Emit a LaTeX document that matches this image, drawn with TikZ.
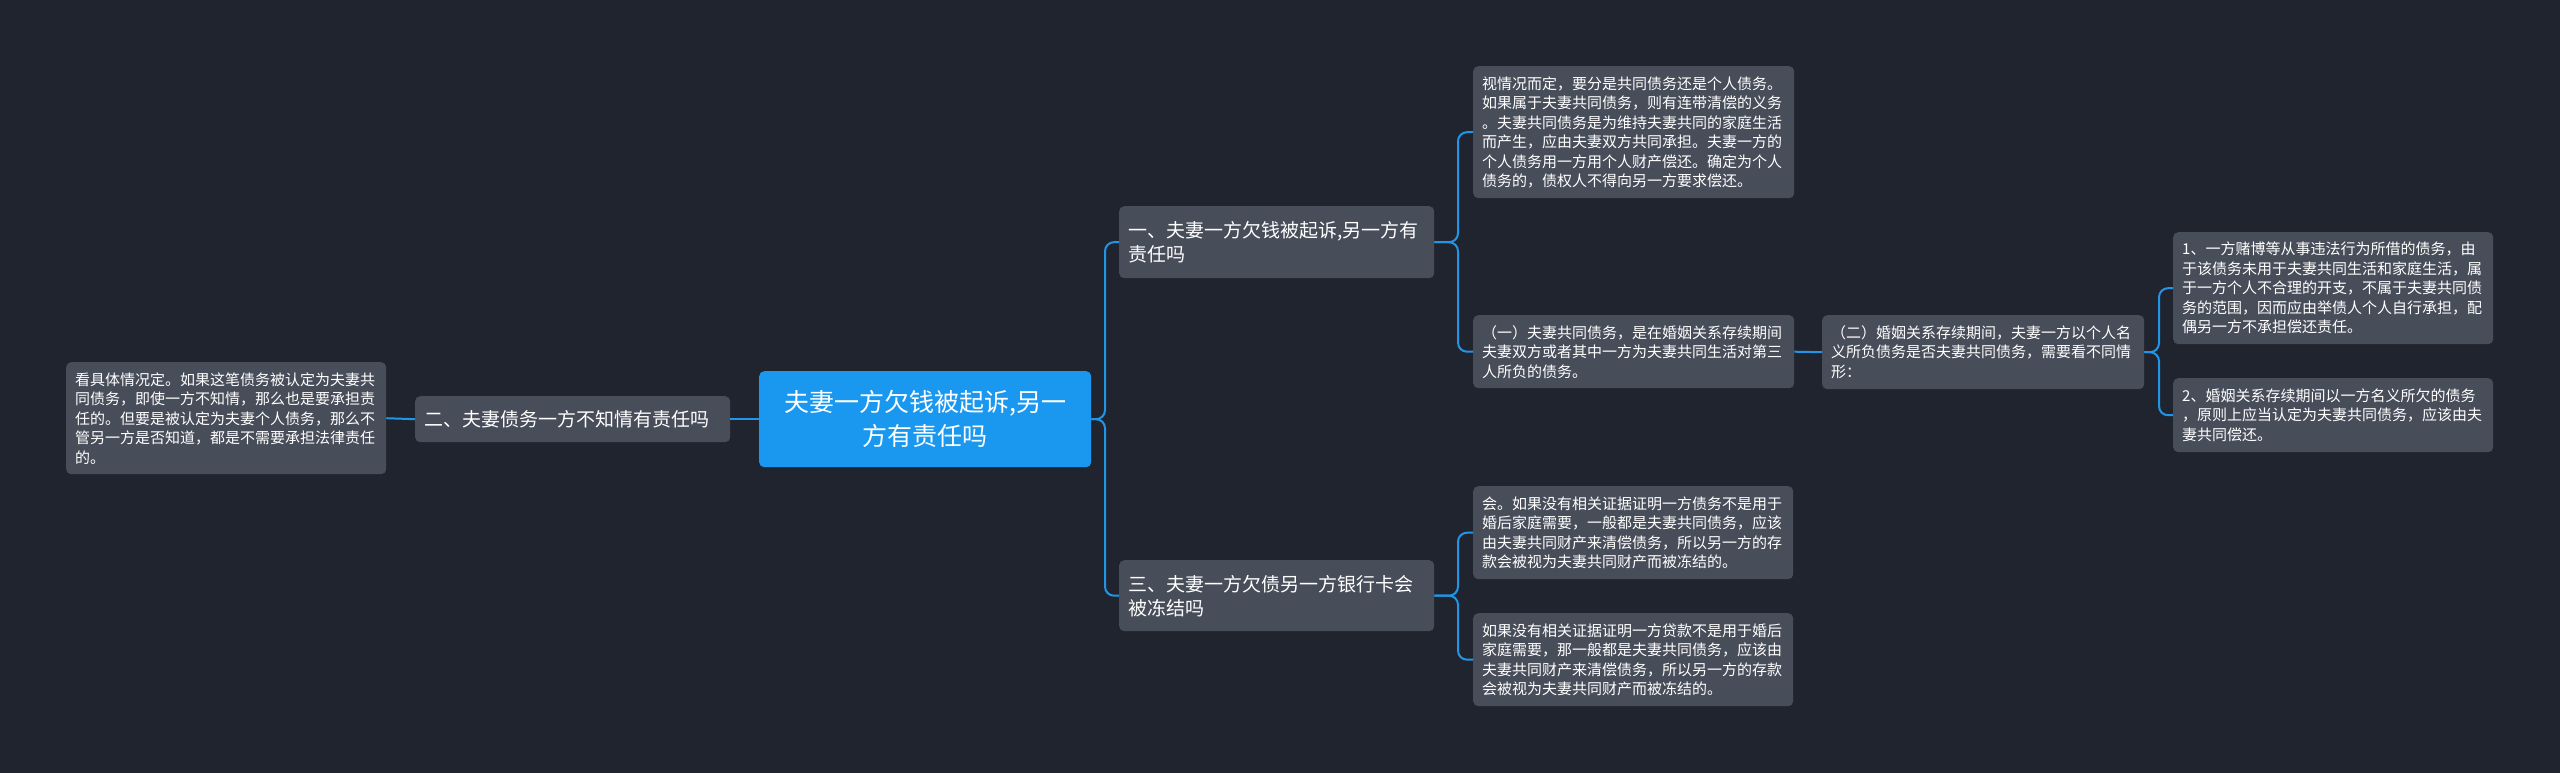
\documentclass[tikz,border=0pt]{standalone}
\usepackage{fontspec}
\setmainfont{Noto Sans CJK SC}
\usetikzlibrary{calc}
\definecolor{bgc}{HTML}{20242F}
\definecolor{boxc}{HTML}{484D5A}
\definecolor{rootc}{HTML}{1A98F0}
\definecolor{linec}{HTML}{2296E6}
\tikzset{
  box/.style={fill=boxc, rounded corners=5pt, text=white, align=left, inner xsep=9pt, inner ysep=0pt, anchor=north west},
  leaf/.style={box, font=\fontsize{15}{19.5}\selectfont},
  mid/.style={box, font=\fontsize{19}{24}\selectfont},
  rootbox/.style={fill=rootc, rounded corners=5pt, text=white, align=center, inner xsep=0pt, inner ysep=0pt, anchor=north west, font=\fontsize{25}{34}\selectfont},
  conn/.style={draw=linec, line width=2pt, rounded corners=9pt}
}
\begin{document}
\begin{tikzpicture}[x=1pt,y=-1pt]
\useasboundingbox (0,0) rectangle (2560,772);
\fill[bgc] (-10,-10) rectangle (2570,782);

% root
\node[rootbox, text width=332, minimum height=96] (root) at (759,371) {夫妻一方欠钱被起诉,另一\\方有责任吗};

% level 1
\node[mid, text width=297, minimum height=72] (n1) at (1119,206) {一、夫妻一方欠钱被起诉,另一方有\\责任吗};
\node[mid, text width=297, minimum height=71] (n3) at (1119,560) {三、夫妻一方欠债另一方银行卡会\\被冻结吗};
\node[mid, text width=297, minimum height=46] (n2) at (415,396) {二、夫妻债务一方不知情有责任吗};

% leaves
\node[leaf, text width=302, minimum height=112] (lleft) at (66,362) {看具体情况定。如果这笔债务被认定为夫妻共\\同债务，即使一方不知情，那么也是要承担责\\任的。但要是被认定为夫妻个人债务，那么不\\管另一方是否知道，都是不需要承担法律责任\\的。};

\node[leaf, text width=303, minimum height=132] (la) at (1473,66) {视情况而定，要分是共同债务还是个人债务。\\如果属于夫妻共同债务，则有连带清偿的义务\\。夫妻共同债务是为维持夫妻共同的家庭生活\\而产生，应由夫妻双方共同承担。夫妻一方的\\个人债务用一方用个人财产偿还。确定为个人\\债务的，债权人不得向另一方要求偿还。};

\node[leaf, text width=303, minimum height=73] (lb) at (1473,315) {（一）夫妻共同债务，是在婚姻关系存续期间\\夫妻双方或者其中一方为夫妻共同生活对第三\\人所负的债务。};

\node[leaf, text width=304, minimum height=74] (lc) at (1822,315) {（二）婚姻关系存续期间，夫妻一方以个人名\\义所负债务是否夫妻共同债务，需要看不同情\\形：};

\node[leaf, text width=302, minimum height=112] (l1) at (2173,232) {1、一方赌博等从事违法行为所借的债务，由\\于该债务未用于夫妻共同生活和家庭生活，属\\于一方个人不合理的开支，不属于夫妻共同债\\务的范围，因而应由举债人个人自行承担，配\\偶另一方不承担偿还责任。};

\node[leaf, text width=302, minimum height=74] (l2) at (2173,378) {2、婚姻关系存续期间以一方名义所欠的债务\\，原则上应当认定为夫妻共同债务，应该由夫\\妻共同偿还。};

\node[leaf, text width=302, minimum height=93] (l3a) at (1473,486) {会。如果没有相关证据证明一方债务不是用于\\婚后家庭需要，一般都是夫妻共同债务，应该\\由夫妻共同财产来清偿债务，所以另一方的存\\款会被视为夫妻共同财产而被冻结的。};

\node[leaf, text width=302, minimum height=93] (l3b) at (1473,613) {如果没有相关证据证明一方贷款不是用于婚后\\家庭需要，那一般都是夫妻共同债务，应该由\\夫妻共同财产来清偿债务，所以另一方的存款\\会被视为夫妻共同财产而被冻结的。};

% connectors
\draw[conn] (root.east) -| ([xshift=-14pt]n1.west) -- (n1.west);
\draw[conn] (root.east) -| ([xshift=-14pt]n3.west) -- (n3.west);
\draw[conn] (root.west) -- (n2.east);
\draw[conn] (n2.west) -- (lleft.east);
\draw[conn] (n1.east) -| ([xshift=-15pt]la.west) -- (la.west);
\draw[conn] (n1.east) -| ([xshift=-15pt]lb.west) -- (lb.west);
\draw[conn] (lb.east) -- (lc.west);
\draw[conn] (lc.east) -| ([xshift=-14pt]l1.west) -- (l1.west);
\draw[conn] (lc.east) -| ([xshift=-14pt]l2.west) -- (l2.west);
\draw[conn] (n3.east) -| ([xshift=-15pt]l3a.west) -- (l3a.west);
\draw[conn] (n3.east) -| ([xshift=-15pt]l3b.west) -- (l3b.west);
\end{tikzpicture}
\end{document}
